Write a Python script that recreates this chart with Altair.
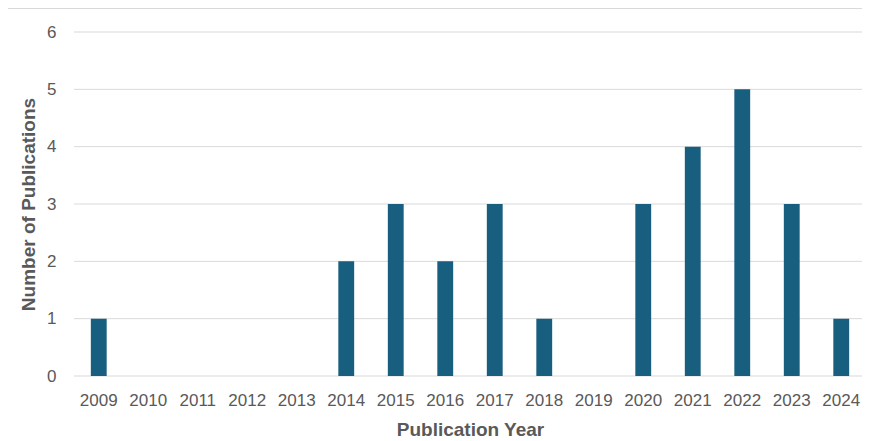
import altair as alt
import pandas as pd

years = [str(y) for y in range(2009, 2025)]
counts = [1, 0, 0, 0, 0, 2, 3, 2, 3, 1, 0, 3, 4, 5, 3, 1]
y_ticks = [0, 1, 2, 3, 4, 5, 6]

df = pd.DataFrame({"year": years, "count": counts})
grid_df = pd.DataFrame({"v": y_ticks})

W, H = 788, 344
XR = 792
FONT = "Liberation Sans"
GRAY = "#595959"
LINE = "#d9d9d9"

grid = alt.Chart(grid_df).mark_rule(color=LINE, strokeWidth=1).encode(
    y=alt.Y("v:Q", scale=alt.Scale(domain=[0, 6], nice=False)),
    x=alt.value(0), x2=alt.value(W),
)

bars = alt.Chart(df).mark_bar(color="#175e7f").encode(
    x=alt.X("year:N", sort=years, title="Publication Year",
            scale=alt.Scale(range=[0, XR], paddingInner=0.68, paddingOuter=0.34),
            axis=alt.Axis(labelAngle=0, labelFont=FONT, labelFontSize=17,
                          labelColor=GRAY, titleFont=FONT, titleFontSize=19,
                          titleFontWeight="bold", titleColor=GRAY,
                          ticks=False, domain=False, grid=False,
                          labelPadding=16, titlePadding=12)),
    y=alt.Y("count:Q", title="Number of Publications",
            scale=alt.Scale(domain=[0, 6], nice=False),
            axis=alt.Axis(values=y_ticks, format="d", labelFont=FONT,
                          labelFontSize=17, labelColor=GRAY, titleFont=FONT,
                          titleFontSize=19, titleFontWeight="bold",
                          titleColor=GRAY, ticks=False, domain=False,
                          grid=False, labelPadding=18, titlePadding=8)),
)

border = alt.Chart(df).mark_rule(color=LINE, strokeWidth=1.5).encode(
    x=alt.value(-66), x2=alt.value(W), y=alt.value(-24)
)

chart = alt.layer(grid, bars, border).properties(
    width=W, height=H,
    autosize=alt.AutoSizeParams(type="none"),
    padding={"left": 66, "top": 24, "right": 0, "bottom": 65},
).configure_view(stroke=None)

chart.save("out.html", embed_options={"renderer": "svg", "actions": False})
